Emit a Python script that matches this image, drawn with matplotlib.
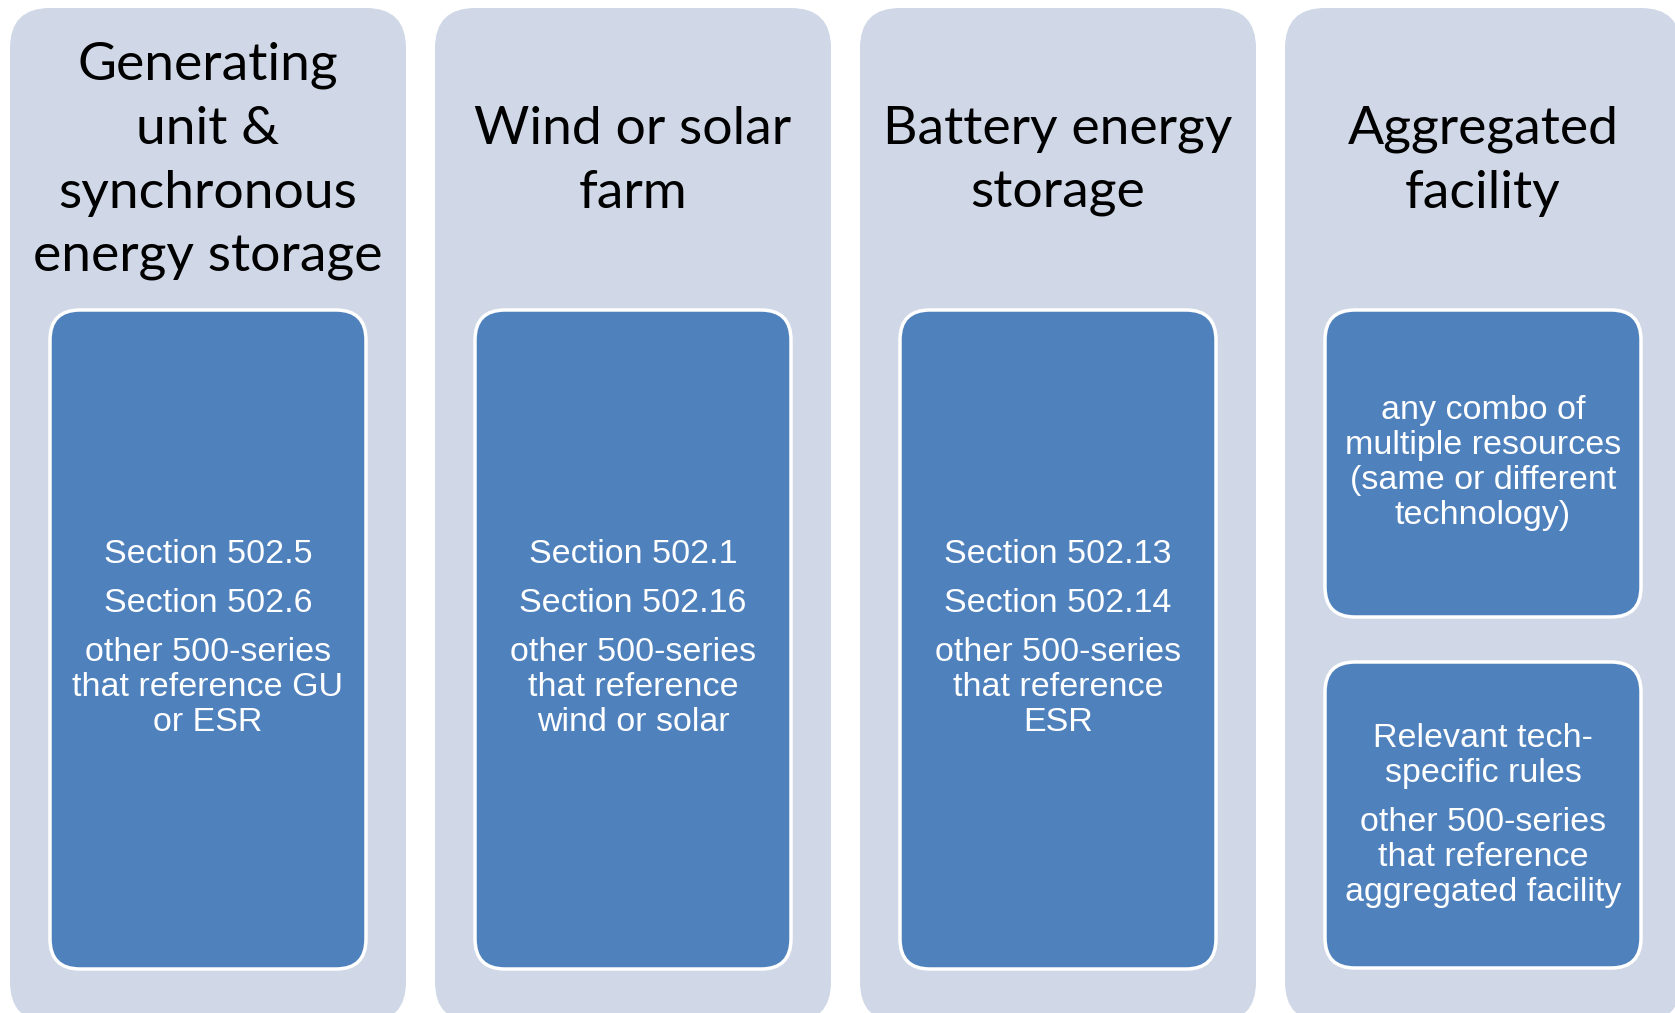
import matplotlib.pyplot as plt
from matplotlib.patches import FancyBboxPatch

# panel titles and the text in their blue boxes
titles = [
    "Generating\nunit &\nsynchronous\nenergy storage",
    "Wind or solar\nfarm",
    "Battery energy\nstorage",
    "Aggregated\nfacility",
]
# each box: list of paragraphs
boxes = [
    [["Section 502.5"], ["Section 502.6"], ["other 500-series", "that reference GU", "or ESR"]],
    [["Section 502.1"], ["Section 502.16"], ["other 500-series", "that reference", "wind or solar"]],
    [["Section 502.13"], ["Section 502.14"], ["other 500-series", "that reference", "ESR"]],
]
agg_top = [["any combo of", "multiple resources", "(same or different", "technology)"]]
agg_bottom = [["Relevant tech-", "specific rules"], ["other 500-series", "that reference", "aggregated facility"]]

W, H = 1675, 1013
light = "#D0D8E7"
blue = "#4F81BD"

fig = plt.figure(figsize=(W / 100, H / 100), dpi=100)
ax = fig.add_axes([0, 0, 1, 1])
ax.set_xlim(0, W)
ax.set_ylim(H, 0)
ax.axis("off")

title_font = ["Lato", "DejaVu Sans"]
body_font = ["Liberation Sans", "DejaVu Sans"]


def rbox(x0, y0, x1, y1, r, fc, ec="none", lw=0):
    p = FancyBboxPatch((x0 + r, y0 + r), (x1 - x0) - 2 * r, (y1 - y0) - 2 * r,
                       boxstyle=f"round,pad={r}", fc=fc, ec=ec, lw=lw)
    ax.add_patch(p)


def body(cx, cy, paras, line=35, gap=49):
    # total height so the block sits centred in its box
    n_lines = sum(len(p) for p in paras)
    total = (n_lines - len(paras)) * line + (len(paras) - 1) * gap
    y = cy - total / 2
    for p in paras:
        for j, s in enumerate(p):
            ax.text(cx, y, s, ha="center", va="center", color="white",
                    fontsize=24.5, family=body_font)
            if j < len(p) - 1:
                y += line
        y += gap


step = 425
pw = 396
for i in range(4):
    x0 = 10 + i * step
    cx = x0 + pw / 2
    rbox(x0, 8, x0 + pw, 1022, 40, light)
    nl = titles[i].count("\n") + 1
    ty0 = 65 if nl == 4 else 129
    for k, line in enumerate(titles[i].split("\n")):
        ax.text(cx, ty0 + k * 64, line, ha="center", va="center", color="black",
                fontsize=38.5, family=title_font)
    if i < 3:
        rbox(cx - 158, 310, cx + 158, 969, 30, blue, ec="white", lw=2.5)
        body(cx, 638, boxes[i])
    else:
        rbox(cx - 158, 310, cx + 158, 617, 30, blue, ec="white", lw=2.5)
        body(cx, 463, agg_top)
        rbox(cx - 158, 662, cx + 158, 968, 30, blue, ec="white", lw=2.5)
        body(cx, 815, agg_bottom)

fig.savefig("out.png", dpi=100, facecolor="white")
